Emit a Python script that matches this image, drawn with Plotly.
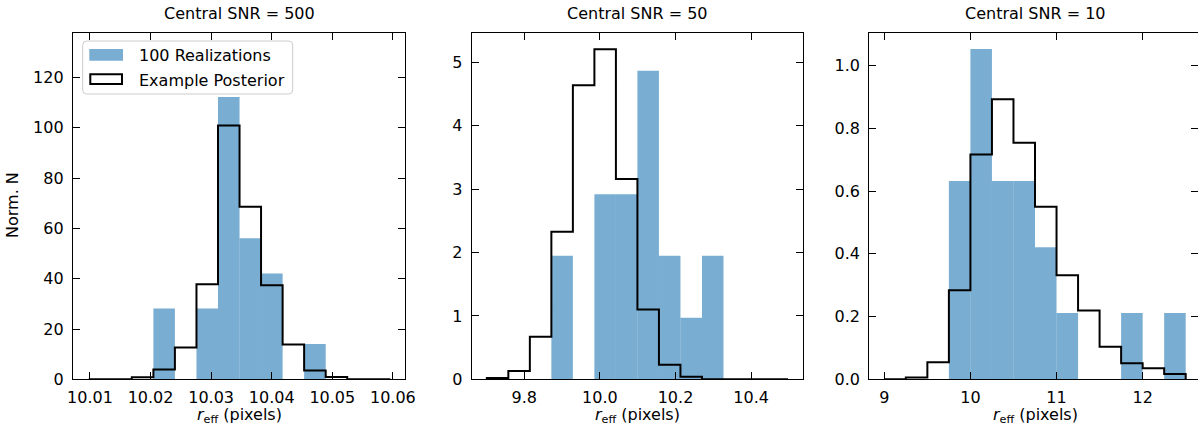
import plotly.graph_objects as go

W, H = 1198, 431

# ---------------- data ----------------
titles = ["Central SNR = 500", "Central SNR = 50", "Central SNR = 10"]

edges_snr500 = [10.0098, 10.01336, 10.01691, 10.02047, 10.02402, 10.02758, 10.03113,
                10.03469, 10.03824, 10.0418, 10.04535, 10.04891, 10.05246, 10.05602, 10.05957]
real_snr500 = [0, 0, 0, 28.1, 0, 28.1, 112.2, 56.1, 42.1, 0, 14.0, 0, 0, 0]
post_snr500 = [0, 0, 0.8, 3.9, 12.6, 37.8, 100.9, 68.6, 37.4, 13.8, 3.5, 0.9, 0, 0]

edges_snr50 = [9.701, 9.7579, 9.8148, 9.8717, 9.9286, 9.9855, 10.0424, 10.0993,
               10.1562, 10.2131, 10.27, 10.3269, 10.3838, 10.4407, 10.4976]
real_snr50 = [0, 0, 0, 1.95, 0, 2.92, 2.92, 4.87, 1.95, 0.97, 1.95, 0, 0, 0]
post_snr50 = [0.02, 0.13, 0.67, 2.33, 4.64, 5.21, 3.16, 1.10, 0.23, 0.04, 0, 0, 0, 0]

edges_snr10 = [9.0, 9.25, 9.5, 9.75, 10.0, 10.25, 10.5, 10.75, 11.0, 11.25,
               11.5, 11.75, 12.0, 12.25, 12.5]
real_snr10 = [0, 0, 0, 0.632, 1.053, 0.632, 0.632, 0.421, 0.211, 0, 0, 0.211, 0, 0.211]
post_snr10 = [0, 0.006, 0.054, 0.284, 0.717, 0.893, 0.754, 0.550, 0.332, 0.219,
              0.104, 0.051, 0.035, 0.017]

xticks_snr500 = [10.01, 10.02, 10.03, 10.04, 10.05, 10.06]
xticks_snr50 = [9.8, 10.0, 10.2, 10.4]
xticks_snr10 = [9, 10, 11, 12]
yticks_snr500 = [0, 20, 40, 60, 80, 100, 120]
yticks_snr50 = [0, 1, 2, 3, 4, 5]
yticks_snr10 = [0.0, 0.2, 0.4, 0.6, 0.8, 1.0]

legend_labels = ["100 Realizations", "Example Posterior"]

# ---------------- styling ----------------
FONT = "DejaVu Sans"
FS = 16
BAR_COLOR = "rgba(31,119,180,0.6)"
LW = 1.3


def px(x):
    return x / W


def py(y):
    return 1 - y / H


def centers(e):
    return [(a + b) / 2 for a, b in zip(e[:-1], e[1:])]


def widths(e):
    return [b - a for a, b in zip(e[:-1], e[1:])]


def step_xy(e, v):
    xs = [e[0]] + list(e[:-1]) + [e[-1]]
    ys = [0] + list(v) + [0]
    return xs, ys


panels = [
    dict(edges=edges_snr500, real=real_snr500, post=post_snr500,
         xd=(73, 405), xr=[10.0072, 10.0620], yr=[0, 137.8],
         xt=xticks_snr500, xf=".2f", yt=yticks_snr500, yf="d"),
    dict(edges=edges_snr50, real=real_snr50, post=post_snr50,
         xd=(471.7, 803.3), xr=[9.661, 10.538], yr=[0, 5.47],
         xt=xticks_snr50, xf=".1f", yt=yticks_snr50, yf="d"),
    dict(edges=edges_snr10, real=real_snr10, post=post_snr10,
         xd=(869.3, 1198), xr=[8.8258, 12.6428], yr=[0, 1.105],
         xt=xticks_snr10, xf="d", yt=yticks_snr10, yf=".1f"),
]

ydom = [py(379.3), py(32.7)]

fig = go.Figure()
layout = dict(
    width=W, height=H,
    margin=dict(l=0, r=0, t=0, b=0, pad=0),
    paper_bgcolor="white", plot_bgcolor="white",
    showlegend=False, hovermode=False,
    font=dict(family=FONT, size=FS, color="black"),
    annotations=[], shapes=[],
)

for i, p in enumerate(panels, start=1):
    xa = "x" if i == 1 else f"x{i}"
    ya = "y" if i == 1 else f"y{i}"
    fig.add_trace(go.Bar(
        x=centers(p["edges"]), y=p["real"], width=widths(p["edges"]),
        marker=dict(color=BAR_COLOR, line=dict(width=0)),
        name=legend_labels[0], xaxis=xa, yaxis=ya))
    sx, sy = step_xy(p["edges"], p["post"])
    fig.add_trace(go.Scatter(
        x=sx, y=sy, mode="lines",
        line=dict(color="black", width=2, shape="hv"),
        name=legend_labels[1], xaxis=xa, yaxis=ya))

    common = dict(ticks="inside", ticklen=7, tickwidth=LW, tickcolor="black",
                  showline=True, linecolor="black", linewidth=LW,
                  showgrid=False, zeroline=False, automargin=False,
                  tickfont=dict(family=FONT, size=FS, color="black"))
    layout["xaxis" if i == 1 else f"xaxis{i}"] = dict(
        domain=[px(p["xd"][0]), px(p["xd"][1])], range=p["xr"],
        anchor=ya, tickvals=p["xt"], tickformat=p["xf"],
        mirror="ticks", ticklabelstandoff=3, **common)
    layout["yaxis" if i == 1 else f"yaxis{i}"] = dict(
        domain=ydom, range=p["yr"], anchor=xa,
        tickvals=p["yt"], tickformat=p["yf"],
        mirror=("ticks" if i < 3 else False), ticklabelstandoff=5, **common)

    cx = (p["xd"][0] + (p["xd"][1] if i < 3 else 1201)) / 2
    layout["annotations"].append(dict(
        text=titles[i - 1], x=px(cx), y=py(13), xref="paper", yref="paper",
        xanchor="center", yanchor="middle", showarrow=False,
        font=dict(family=FONT, size=FS, color="black")))
    layout["annotations"].append(dict(
        text="<i>r</i><sub>eff</sub> (pixels)", x=px(cx), y=py(415),
        xref="paper", yref="paper", xanchor="center", yanchor="middle",
        showarrow=False, font=dict(family=FONT, size=FS, color="black")))

# right-side ticks for the third panel (its right spine lies beyond the canvas)
fig.add_trace(go.Scatter(x=[None], y=[None], xaxis="x3", yaxis="y4",
                         showlegend=False, hoverinfo="skip"))
layout["yaxis4"] = dict(overlaying="y3", side="right", anchor="x3",
                        range=panels[2]["yr"], tickvals=yticks_snr10,
                        ticks="inside", ticklen=7, tickwidth=LW, tickcolor="black",
                        showticklabels=False, showline=False, showgrid=False,
                        zeroline=False, automargin=False)

# y-axis label
layout["annotations"].append(dict(
    text="Norm. N", x=px(12), y=py(205), xref="paper", yref="paper",
    xanchor="center", yanchor="middle", textangle=-90, showarrow=False,
    font=dict(family=FONT, size=FS, color="black")))

# legend (matplotlib-style frame with patch swatches)
fx0, fx1, fy0, fy1, r = 82.7, 292.7, 41, 94, 4
frame_path = (f"M {px(fx0 + r)},{py(fy0)} L {px(fx1 - r)},{py(fy0)} "
              f"Q {px(fx1)},{py(fy0)} {px(fx1)},{py(fy0 + r)} "
              f"L {px(fx1)},{py(fy1 - r)} Q {px(fx1)},{py(fy1)} {px(fx1 - r)},{py(fy1)} "
              f"L {px(fx0 + r)},{py(fy1)} Q {px(fx0)},{py(fy1)} {px(fx0)},{py(fy1 - r)} "
              f"L {px(fx0)},{py(fy0 + r)} Q {px(fx0)},{py(fy0)} {px(fx0 + r)},{py(fy0)} Z")
layout["shapes"].append(dict(type="path", path=frame_path, xref="paper", yref="paper",
                             fillcolor="rgba(255,255,255,0.85)",
                             line=dict(color="#cccccc", width=1), layer="above"))
layout["shapes"].append(dict(type="rect", xref="paper", yref="paper",
                             x0=px(89.3), x1=px(123), y0=py(60.7), y1=py(49),
                             fillcolor=BAR_COLOR, line=dict(width=0), layer="above"))
layout["shapes"].append(dict(type="rect", xref="paper", yref="paper",
                             x0=px(90.3), x1=px(122), y0=py(84), y1=py(74.3),
                             fillcolor="white", line=dict(color="black", width=2),
                             layer="above"))
for lbl, yc in zip(legend_labels, [55.5, 80]):
    layout["annotations"].append(dict(
        text=lbl, x=px(136.5), y=py(yc), xref="paper", yref="paper",
        xanchor="left", yanchor="middle", showarrow=False,
        font=dict(family=FONT, size=FS, color="black")))

fig.update_layout(**layout)
fig.write_html(
    "out.html",
    config={"displayModeBar": False},
    post_script="document.body.style.margin='0px';"
                "document.body.style.overflow='hidden';")
